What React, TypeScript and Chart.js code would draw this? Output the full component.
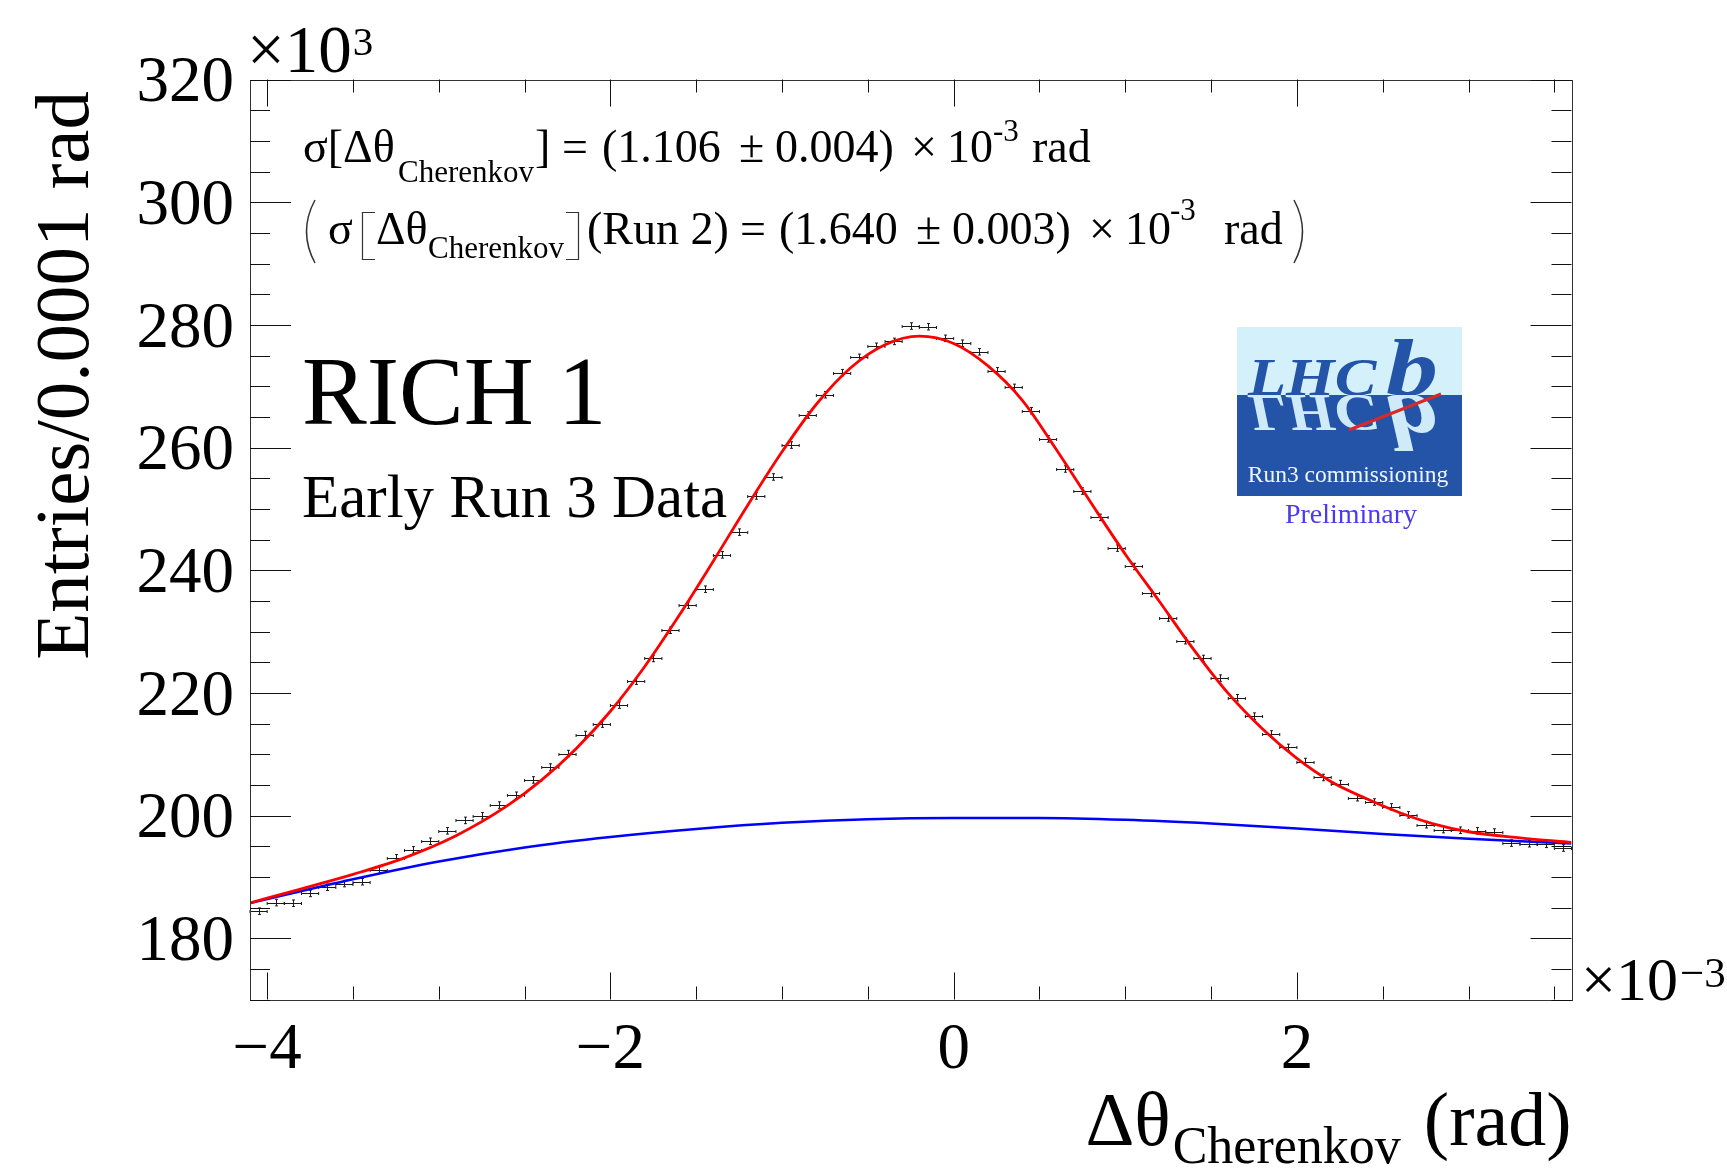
import React, { useEffect, useRef } from "react";
import { Chart, registerables } from "chart.js";

Chart.register(...registerables);

const W = 1727;
const H = 1169;
const FONT = "'Liberation Serif', 'Times New Roman', 'DejaVu Serif', serif";

// Histogram: bin centres (x 10^-3 rad) and entries (x 10^3)
const binCenters = [
  -4.05, -3.95, -3.85, -3.75, -3.65, -3.55, -3.45, -3.35, -3.25, -3.15,
  -3.05, -2.95, -2.85, -2.75, -2.65, -2.55, -2.45, -2.35, -2.25, -2.15,
  -2.05, -1.95, -1.85, -1.75, -1.65, -1.55, -1.45, -1.35, -1.25, -1.15,
  -1.05, -0.95, -0.85, -0.75, -0.65, -0.55, -0.45, -0.35, -0.25, -0.15,
  -0.05, 0.05, 0.15, 0.25, 0.35, 0.45, 0.55, 0.65, 0.75, 0.85,
  0.95, 1.05, 1.15, 1.25, 1.35, 1.45, 1.55, 1.65, 1.75, 1.85,
  1.95, 2.05, 2.15, 2.25, 2.35, 2.45, 2.55, 2.65, 2.75, 2.85,
  2.95, 3.05, 3.15, 3.25, 3.35, 3.45, 3.55,
];
const entries = [
  184.4, 185.8, 185.7, 187.3, 188.3, 188.9, 189.2, 191.1, 193.1, 194.4,
  195.8, 197.5, 199.2, 199.95, 201.7, 203.3, 205.8, 207.9, 210.1, 213.2,
  214.9, 218.0, 221.9, 225.6, 230.2, 234.3, 236.9, 242.5, 246.2, 252.1,
  255.2, 260.4, 265.3, 268.6, 272.2, 274.7, 276.5, 277.3, 279.8, 279.7,
  277.8, 277.0, 275.6, 272.5, 269.8, 266.0, 261.4, 256.5, 252.9, 248.6,
  243.6, 240.6, 236.2, 232.2, 228.5, 225.6, 222.4, 219.2, 216.2, 213.3,
  211.1, 208.8, 206.2, 205.2, 202.9, 202.2, 201.4, 200.1, 198.5, 197.7,
  197.6, 197.5, 197.3, 195.5, 195.4, 195.3, 194.7,
];
const entryErr = 0.53;
const binHalfWidth = 0.05;

// Total fit (red)
const fitX = [
  -4.1, -3.8, -3.5, -3.2, -2.9, -2.6, -2.4, -2.2, -2.0, -1.8,
  -1.6, -1.4, -1.2, -1.0, -0.8, -0.6, -0.4, -0.2, 0.0, 0.2,
  0.4, 0.6, 0.8, 1.0, 1.2, 1.4, 1.6, 1.8, 2.0, 2.2,
  2.4, 2.6, 2.8, 3.0, 3.3, 3.6,
];
const fitY = [
  185.75, 188.05, 190.4, 193.1, 196.7, 201.6, 205.8, 210.9, 217.0, 224.3,
  232.6, 241.5, 250.6, 259.3, 267.05, 273.0, 276.75, 278.15, 276.95, 273.3,
  267.7, 259.6, 251.0, 242.6, 234.85, 227.0, 219.9, 214.1, 209.3, 205.5,
  202.8, 200.45, 198.6, 197.35, 196.35, 195.6,
];

// Background component (blue)
const bkgX = [-4.1, -3.5, -3.0, -2.5, -2.0, -1.5, -1.0, -0.5, 0, 0.5, 1.0, 1.5, 2.0, 2.5, 3.0, 3.6];
const bkgY = [185.7, 189.6, 192.5, 194.8, 196.5, 197.8, 198.8, 199.4, 199.6, 199.6, 199.3, 198.7, 197.9, 197.0, 196.2, 195.45];

// Axes
const xMin = -4.1;
const xMax = 3.6;
const yMin = 170;
const yMax = 320;
const xMajorTicks = [-4, -2, 0, 2];
const xTickLabels = ["\u22124", "\u22122", "0", "2"];
const yMajorTicks = [180, 200, 220, 240, 260, 280, 300, 320];
const yTickLabels = ["180", "200", "220", "240", "260", "280", "300", "320"];
const xMinorStep = 0.5;
const yMinorStep = 5;

function seg(ctx: CanvasRenderingContext2D, text: string, x: number, y: number, size: number, style = "") {
  ctx.font = `${style}${size}px ${FONT}`;
  ctx.fillText(text, x, y);
  return x + ctx.measureText(text).width;
}

const rootPlugin = {
  id: "rootStyle",
  beforeDraw(chart: any) {
    const { ctx } = chart;
    ctx.save();
    ctx.fillStyle = "#fff";
    ctx.fillRect(0, 0, W, H);
    ctx.restore();
  },
  beforeDatasetsDraw(chart: any) {
    const { ctx, scales } = chart;
    const x = scales.x;
    const y = scales.y;
    ctx.save();
    ctx.strokeStyle = "#1a1a1a";
    ctx.lineWidth = 1;
    ctx.beginPath();
    binCenters.forEach((c, i) => {
      const v = entries[i];
      const px = Math.round(x.getPixelForValue(c)) + 0.5;
      const py = Math.round(y.getPixelForValue(v)) + 0.5;
      const x0 = x.getPixelForValue(c - binHalfWidth);
      const x1 = x.getPixelForValue(c + binHalfWidth);
      const y0 = y.getPixelForValue(v - entryErr);
      const y1 = y.getPixelForValue(v + entryErr);
      ctx.moveTo(x0, py);
      ctx.lineTo(x1, py);
      ctx.moveTo(px, y0);
      ctx.lineTo(px, y1);
      ctx.moveTo(x0, py - 1.5);
      ctx.lineTo(x0, py + 1.5);
      ctx.moveTo(x1, py - 1.5);
      ctx.lineTo(x1, py + 1.5);
      ctx.moveTo(px - 1.5, y0);
      ctx.lineTo(px + 1.5, y0);
      ctx.moveTo(px - 1.5, y1);
      ctx.lineTo(px + 1.5, y1);
    });
    ctx.stroke();
    ctx.restore();
  },
  afterDraw(chart: any) {
    const { ctx, chartArea: a, scales } = chart;
    const x = scales.x;
    const y = scales.y;
    ctx.save();
    // frame
    ctx.strokeStyle = "#333";
    ctx.lineWidth = 1;
    ctx.strokeRect(Math.round(a.left) + 0.5, Math.round(a.top) + 0.5, Math.round(a.right - a.left), Math.round(a.bottom - a.top));

    // ticks
    ctx.strokeStyle = "#111";
    ctx.beginPath();
    const isMajorX = (v: number) => xMajorTicks.some((m) => Math.abs(m - v) < 1e-6);
    for (let v = -4; v <= xMax + 1e-6; v += xMinorStep) {
      const px = Math.round(x.getPixelForValue(v)) + 0.5;
      const len = isMajorX(v) ? 27 : 13;
      ctx.moveTo(px, a.bottom);
      ctx.lineTo(px, a.bottom - len);
      ctx.moveTo(px, a.top);
      ctx.lineTo(px, a.top + len);
    }
    const isMajorY = (v: number) => yMajorTicks.some((m) => Math.abs(m - v) < 1e-6);
    for (let v = yMin; v <= yMax + 1e-6; v += yMinorStep) {
      const py = Math.round(y.getPixelForValue(v)) + 0.5;
      const len = isMajorY(v) ? 41 : 20;
      ctx.moveTo(a.left, py);
      ctx.lineTo(a.left + len, py);
      ctx.moveTo(a.right, py);
      ctx.lineTo(a.right - len, py);
    }
    ctx.stroke();

    // tick labels
    ctx.fillStyle = "#000";
    ctx.textBaseline = "alphabetic";
    const labelSize = 65;
    ctx.font = `${labelSize}px ${FONT}`;
    ctx.textAlign = "right";
    yMajorTicks.forEach((v, i) => {
      const py = y.getPixelForValue(v);
      ctx.fillText(yTickLabels[i], 234, py + labelSize * 0.676 / 2);
    });
    ctx.textAlign = "center";
    xMajorTicks.forEach((v, i) => {
      const px = x.getPixelForValue(v);
      ctx.fillText(xTickLabels[i], px, 1068);
    });
    ctx.textAlign = "left";

    // exponent labels
    let cx = seg(ctx, "\u00d710", 247, 72, 67);
    seg(ctx, "3", cx + 1, 55, 41);
    cx = seg(ctx, "\u00d710", 1581, 1000, 62);
    seg(ctx, "\u22123", cx + 2, 987, 43);

    // axis titles
    ctx.save();
    ctx.translate(88, 91);
    ctx.rotate(-Math.PI / 2);
    ctx.textAlign = "right";
    ctx.font = `77px ${FONT}`;
    ctx.fillText("Entries/0.0001 rad", 0, 0);
    ctx.restore();

    ctx.font = `76px ${FONT}`;
    const w1 = ctx.measureText("\u0394\u03b8").width;
    ctx.font = `52px ${FONT}`;
    const w2 = ctx.measureText("Cherenkov").width;
    ctx.font = `76px ${FONT}`;
    const w3 = ctx.measureText(" (rad)").width;
    let tx = a.right - (w1 + w2 + w3 + 6);
    tx = seg(ctx, "\u0394\u03b8", tx, 1145, 76);
    tx = seg(ctx, "Cherenkov", tx + 2, 1163, 52);
    seg(ctx, " (rad)", tx + 4, 1145, 76);

    // annotation line 1
    const F = 46;
    const S = 31;
    seg(ctx, "\u03c3[\u0394\u03b8", 303, 162, F);
    seg(ctx, "Cherenkov", 398, 182, S);
    seg(ctx, "]", 535, 162, F);
    seg(ctx, "=", 562, 162, F);
    seg(ctx, "(1.106", 602, 162, F);
    seg(ctx, "\u00b1", 739, 162, F);
    seg(ctx, "0.004)", 775, 162, F);
    seg(ctx, "\u00d7", 911, 162, F);
    seg(ctx, "10", 947, 162, F);
    seg(ctx, "-3", 993, 141, S);
    seg(ctx, "rad", 1032, 162, F);

    // annotation line 2
    ctx.strokeStyle = "#333";
    ctx.lineWidth = 1.5;
    ctx.beginPath();
    ctx.moveTo(315, 200);
    ctx.quadraticCurveTo(298, 231.5, 315, 263);
    ctx.stroke();
    seg(ctx, "\u03c3", 328, 244, F);
    ctx.lineWidth = 1.2;
    ctx.beginPath();
    ctx.moveTo(375, 212.5);
    ctx.lineTo(362.5, 212.5);
    ctx.lineTo(362.5, 259.5);
    ctx.lineTo(375, 259.5);
    ctx.stroke();
    seg(ctx, "\u0394\u03b8", 376, 244, F);
    seg(ctx, "Cherenkov", 428, 258, S);
    ctx.beginPath();
    ctx.moveTo(566, 212.5);
    ctx.lineTo(578.5, 212.5);
    ctx.lineTo(578.5, 259.5);
    ctx.lineTo(566, 259.5);
    ctx.stroke();
    seg(ctx, "(Run 2)", 587, 244, F);
    seg(ctx, "=", 740, 244, F);
    seg(ctx, "(1.640", 779, 244, F);
    seg(ctx, "\u00b1", 916, 244, F);
    seg(ctx, "0.003)", 952, 244, F);
    seg(ctx, "\u00d7", 1089, 244, F);
    seg(ctx, "10", 1125, 244, F);
    seg(ctx, "-3", 1170, 220, S);
    seg(ctx, "rad", 1224, 244, F);
    ctx.lineWidth = 1.5;
    ctx.beginPath();
    ctx.moveTo(1294, 200);
    ctx.quadraticCurveTo(1311, 231.5, 1294, 263);
    ctx.stroke();

    // RICH 1
    seg(ctx, "RICH 1", 302, 424, 97);
    seg(ctx, "Early Run 3 Data", 302, 517, 61);

    // LHCb logo
    const bx = 1237, by = 327, bw = 225, split = 395, bb = 496;
    ctx.fillStyle = "#d4f0fb";
    ctx.fillRect(bx, by, bw, split - by);
    ctx.fillStyle = "#2354a8";
    ctx.fillRect(bx, split, bw, bb - split);

    const drawLogoText = (flip: boolean) => {
      ctx.save();
      ctx.beginPath();
      if (flip) ctx.rect(bx, split, bw, bb - split);
      else ctx.rect(bx, by, bw, split - by);
      ctx.clip();
      ctx.fillStyle = flip ? "#cfeaf8" : "#2354a8";
      ctx.save();
      ctx.translate(1248, split);
      ctx.scale(1.2, flip ? -1 : 1);
      ctx.font = `italic bold 52px ${FONT}`;
      ctx.fillText("LHC", 0, 0);
      ctx.restore();
      ctx.save();
      ctx.translate(1386, split);
      ctx.scale(1.3, flip ? -1 : 1);
      ctx.font = `italic bold 80px ${FONT}`;
      ctx.fillText("b", 0, 0);
      ctx.restore();
      ctx.restore();
    };
    drawLogoText(false);
    drawLogoText(true);
    ctx.strokeStyle = "#d62a2a";
    ctx.lineWidth = 3;
    ctx.beginPath();
    ctx.moveTo(1349, 430);
    ctx.lineTo(1441, 394);
    ctx.stroke();
    ctx.textAlign = "center";
    ctx.fillStyle = "#eef6fb";
    ctx.font = `23.5px ${FONT}`;
    ctx.fillText("Run3 commissioning", 1348, 482);
    ctx.fillStyle = "#4a3af2";
    ctx.font = `28px ${FONT}`;
    ctx.fillText("Preliminary", 1351, 523);
    ctx.restore();
  },
};

export default function App() {
  const ref = useRef<HTMLCanvasElement | null>(null);
  useEffect(() => {
    document.body.style.margin = "0";
    document.body.style.overflow = "hidden";
    const canvas = ref.current;
    if (!canvas) return;
    const chart = new Chart(canvas, {
      type: "scatter",
      data: {
        datasets: [
          {
            label: "fit",
            data: fitX.map((v, i) => ({ x: v, y: fitY[i] })),
            showLine: true,
            borderColor: "#ff0000",
            borderWidth: 2.8,
            pointRadius: 0,
            cubicInterpolationMode: "monotone",
          },
          {
            label: "background",
            data: bkgX.map((v, i) => ({ x: v, y: bkgY[i] })),
            showLine: true,
            borderColor: "#0000ff",
            borderWidth: 2.5,
            pointRadius: 0,
            cubicInterpolationMode: "monotone",
          },
          {
            label: "data",
            data: binCenters.map((v, i) => ({ x: v, y: entries[i] })),
            showLine: false,
            pointRadius: 0,
            borderColor: "#000",
          },
        ],
      },
      options: {
        responsive: false,
        animation: false,
        devicePixelRatio: 1,
        layout: { padding: { left: 250, top: 79.5, right: W - 1571.5, bottom: H - 999.5 } },
        plugins: { legend: { display: false }, tooltip: { enabled: false } },
        events: [],
        scales: {
          x: { type: "linear", min: xMin, max: xMax, display: false },
          y: { type: "linear", min: yMin, max: yMax, display: false },
        },
      },
      plugins: [rootPlugin],
    } as any);
    return () => chart.destroy();
  }, []);
  return <canvas ref={ref} width={W} height={H} style={{ display: "block" }} />;
}
